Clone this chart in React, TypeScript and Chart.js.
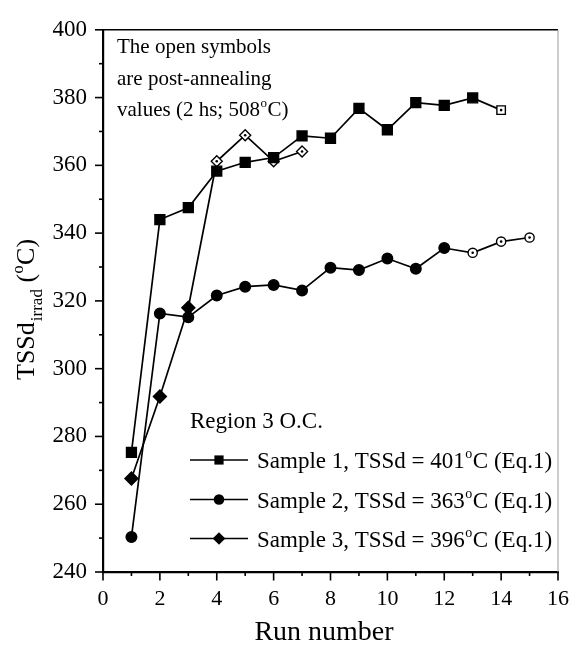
import React, { useEffect, useRef } from "react";
import { Chart, registerables } from "chart.js";

Chart.register(...registerables);

const runs1 = [1, 2, 3, 4, 5, 6, 7, 8, 9, 10, 11, 12, 13, 14];
const sample1 = [275.3, 344.0, 347.5, 358.3, 360.9, 362.3, 368.7, 368.0, 376.8, 370.5, 378.5, 377.7, 379.9, 376.3];
const open1 = [false, false, false, false, false, false, false, false, false, false, false, false, false, true];

const runs2 = [1, 2, 3, 4, 5, 6, 7, 8, 9, 10, 11, 12, 13, 14, 15];
const sample2 = [250.3, 316.3, 315.2, 321.6, 324.2, 324.7, 323.1, 329.8, 329.1, 332.5, 329.5, 335.6, 334.2, 337.5, 338.7];
const open2 = [false, false, false, false, false, false, false, false, false, false, false, false, true, true, true];

const runs3 = [1, 2, 3, 4, 5, 6, 7];
const sample3 = [267.6, 291.8, 318.0, 361.2, 368.9, 361.2, 364.1];
const open3 = [false, false, false, true, true, true, true];

const seriesLabels = [
  "Sample 1, TSSd = 401°C (Eq.1)",
  "Sample 2, TSSd = 363°C (Eq.1)",
  "Sample 3, TSSd = 396°C (Eq.1)",
];
const legendTitle = "Region 3 O.C.";
const noteLines = ["The open symbols", "are post-annealing", "values (2 hs; 508°C)"];
const xTitle = "Run number";
const yTitleMain = "TSSd";
const yTitleSub = "irrad";
const yTitleTail = " (°C)";

const X_MIN = 0, X_MAX = 16, X_STEP = 2;
const Y_MIN = 240, Y_MAX = 400, Y_STEP = 20;

const FONT = '"Liberation Serif", "Times New Roman", serif';

function drawDegText(ctx: CanvasRenderingContext2D, text: string, x: number, y: number, size: number) {
  const parts = text.split("°");
  let cx = x;
  parts.forEach((p, i) => {
    ctx.font = `${size}px ${FONT}`;
    ctx.fillText(p, cx, y);
    cx += ctx.measureText(p).width;
    if (i < parts.length - 1) {
      const s = Math.round(size * 0.6);
      ctx.font = `${s}px ${FONT}`;
      ctx.fillText("o", cx + 0.5, y - size * 0.42);
      cx += ctx.measureText("o").width + 1;
    }
  });
  return cx - x;
}

function drawMarker(ctx: CanvasRenderingContext2D, style: string, r: number, x: number, y: number) {
  ctx.beginPath();
  if (style === "rect") {
    const s = Math.SQRT1_2 * r;
    ctx.rect(x - s, y - s, 2 * s, 2 * s);
  } else if (style === "circle") {
    ctx.arc(x, y, r, 0, Math.PI * 2);
  } else {
    ctx.moveTo(x, y - r);
    ctx.lineTo(x + r, y);
    ctx.lineTo(x, y + r);
    ctx.lineTo(x - r, y);
    ctx.closePath();
  }
  ctx.fill();
}

const decorPlugin = {
  id: "decor",
  afterDatasetsDraw(chart: any) {
    const ctx: CanvasRenderingContext2D = chart.ctx;
    const openFlags = [open1, open2, open3];
    ctx.save();
    ctx.fillStyle = "#000";
    chart.data.datasets.forEach((_: any, di: number) => {
      const meta = chart.getDatasetMeta(di);
      meta.data.forEach((pt: any, i: number) => {
        if (openFlags[di][i]) {
          ctx.beginPath();
          ctx.arc(pt.x, pt.y, 1.3, 0, Math.PI * 2);
          ctx.fill();
        }
      });
    });
    ctx.restore();
  },
  afterDraw(chart: any) {
    const ctx: CanvasRenderingContext2D = chart.ctx;
    const { left, right, top, bottom } = chart.chartArea;
    const xs = chart.scales.x;
    const ys = chart.scales.y;
    ctx.save();
    ctx.strokeStyle = "#000";
    ctx.lineWidth = 1.5;
    ctx.beginPath();
    ctx.moveTo(left, top);
    ctx.lineTo(right, top);
    ctx.stroke();
    ctx.strokeStyle = "#999";
    ctx.lineWidth = 1;
    ctx.beginPath();
    ctx.moveTo(right, top);
    ctx.lineTo(right, bottom);
    ctx.stroke();

    ctx.strokeStyle = "#000";
    ctx.lineWidth = 1.6;
    for (let v = X_MIN; v <= X_MAX; v += 1) {
      const px = xs.getPixelForValue(v);
      const len = v % X_STEP === 0 ? 8.5 : 4;
      ctx.beginPath();
      ctx.moveTo(px, bottom);
      ctx.lineTo(px, bottom + len);
      ctx.stroke();
    }
    for (let v = Y_MIN; v <= Y_MAX; v += Y_STEP / 2) {
      const py = ys.getPixelForValue(v);
      const len = v % Y_STEP === 0 ? 8 : 4;
      ctx.beginPath();
      ctx.moveTo(left, py);
      ctx.lineTo(left - len, py);
      ctx.stroke();
    }

    ctx.fillStyle = "#000";
    ctx.textAlign = "left";
    ctx.textBaseline = "alphabetic";

    noteLines.forEach((line, i) => {
      drawDegText(ctx, line, 117, 53 + i * 31.5, 21);
    });

    ctx.font = `23px ${FONT}`;
    ctx.fillText(legendTitle, 190, 428);
    const styles = ["rect", "circle", "rectRot"];
    const radii = [6.5, 5.3, 6.3];
    const rowsY = [460, 499.5, 538.5];
    seriesLabels.forEach((lab, i) => {
      const y = rowsY[i];
      ctx.strokeStyle = "#000";
      ctx.lineWidth = 1.7;
      ctx.beginPath();
      ctx.moveTo(190, y);
      ctx.lineTo(248, y);
      ctx.stroke();
      ctx.fillStyle = "#000";
      drawMarker(ctx, styles[i], radii[i], 219, y);
      drawDegText(ctx, lab, 257, y + 8, 23);
    });

    ctx.font = `28px ${FONT}`;
    ctx.textAlign = "center";
    ctx.fillText(xTitle, 324, 640);

    ctx.translate(34, 380);
    ctx.rotate(-Math.PI / 2);
    ctx.textAlign = "left";
    let cx = 0;
    ctx.font = `26px ${FONT}`;
    ctx.fillText(yTitleMain, cx, 0);
    cx += ctx.measureText(yTitleMain).width;
    ctx.font = `17px ${FONT}`;
    ctx.fillText(yTitleSub, cx + 1, 8);
    cx += ctx.measureText(yTitleSub).width + 1;
    drawDegText(ctx, yTitleTail, cx, 0, 26);
    ctx.restore();
  },
};

export default function App() {
  const ref = useRef<HTMLCanvasElement | null>(null);
  useEffect(() => {
    if (!ref.current) return;
    const mk = (runs: number[], vals: number[], open: boolean[], style: string, rFill: number, rOpen: number) => ({
      data: runs.map((x, i) => ({ x, y: vals[i] })),
      showLine: true,
      borderColor: "#000",
      borderWidth: 1.7,
      pointStyle: style,
      pointRadius: open.map((o) => (o ? rOpen : rFill)),
      pointBackgroundColor: open.map((o) => (o ? "#fff" : "#000")),
      pointBorderColor: "#000",
      pointBorderWidth: 1.4,
      tension: 0,
    });
    const chart = new Chart(ref.current, {
      type: "scatter",
      data: {
        datasets: [
          mk(runs1, sample1, open1, "rect", 7, 6),
          mk(runs2, sample2, open2, "circle", 5.3, 4.6),
          mk(runs3, sample3, open3, "rectRot", 6.5, 5.5),
        ] as any,
      },
      options: {
        animation: false,
        responsive: true,
        maintainAspectRatio: false,
        layout: { padding: { top: 19, right: 23, left: 0, bottom: 0 } },
        plugins: { legend: { display: false }, tooltip: { enabled: false } },
        scales: {
          x: {
            type: "linear",
            min: X_MIN,
            max: X_MAX,
            ticks: {
              stepSize: X_STEP,
              color: "#000",
              font: { family: FONT, size: 22 },
              padding: 14,
              maxRotation: 0,
            },
            grid: { display: false, drawTicks: false },
            border: { display: true, color: "#000", width: 2.2 },
            afterFit: (s: any) => {
              s.height = 73;
            },
          },
          y: {
            type: "linear",
            min: Y_MIN,
            max: Y_MAX,
            ticks: {
              stepSize: Y_STEP,
              color: "#000",
              font: { family: FONT, size: 23 },
              padding: 16,
            },
            grid: { display: false, drawTicks: false },
            border: { display: true, color: "#000", width: 2.2 },
            afterFit: (s: any) => {
              s.width = 103;
            },
          },
        },
      } as any,
      plugins: [decorPlugin],
    });
    return () => chart.destroy();
  }, []);
  return (
    <div style={{ position: "fixed", left: 0, top: 0, width: 583, height: 645, background: "#fff" }}>
      <canvas ref={ref} />
    </div>
  );
}
